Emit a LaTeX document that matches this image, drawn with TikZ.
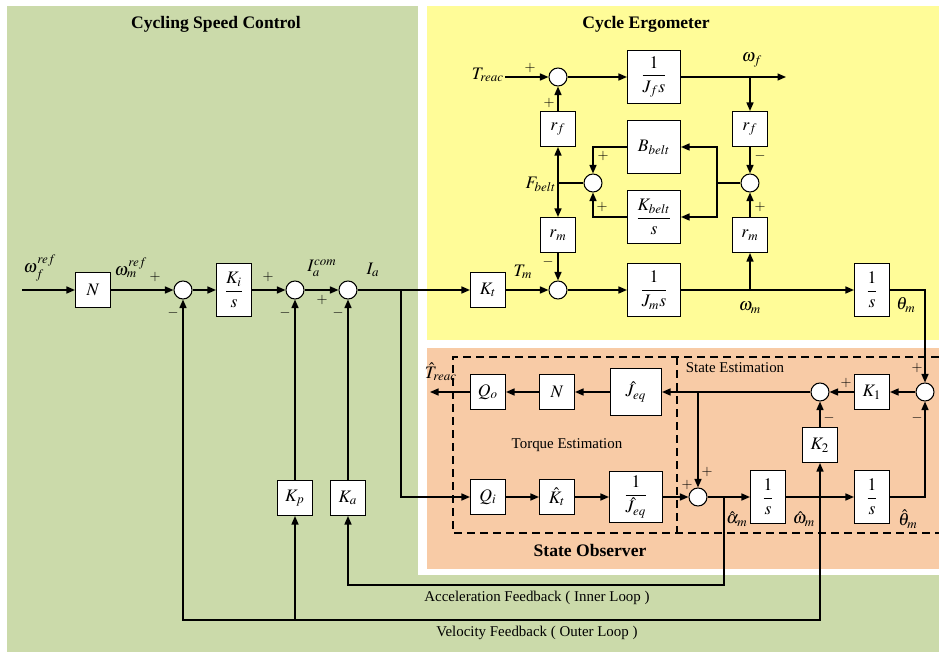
\documentclass[tikz,border=0pt]{standalone}
\usepackage{amsmath}
\usepackage{mathptmx}
\usepackage{fontspec}
\setmainfont{Liberation Serif}
\usetikzlibrary{arrows.meta}

\definecolor{ctrlgreen}{RGB}{203,218,170}
\definecolor{ergoyellow}{RGB}{255,252,152}
\definecolor{obsorange}{RGB}{248,203,166}

\begin{document}
\begin{tikzpicture}[x=0.2mm, y=-0.2mm, line width=0.8pt,
  blk/.style={draw, fill=white, line width=0.6pt, minimum width=7mm, minimum height=7mm, inner sep=1pt},
  bigblk/.style={blk, minimum width=10.6mm, minimum height=10.6mm},
  tallblk/.style={blk, minimum width=7mm, minimum height=10.6mm},
  sumnode/.style={draw, circle, fill=white, line width=0.6pt, minimum size=3.6mm, inner sep=0pt},
  sig/.style={inner sep=0pt, font=\footnotesize},
  lbl/.style={inner sep=0.5pt},
  arr/.style={-{Triangle[length=1.7mm,width=1.4mm]}},
  heading/.style={font=\bfseries},
  note/.style={font=\fontsize{8.5}{10}\selectfont, inner sep=1pt},
  dashbox/.style={dash pattern=on 1.6mm off 1mm}]
  \useasboundingbox (0,0) rectangle (939,652);
  % Panels
  \fill[ctrlgreen] (7,6) rectangle (939,652);
  \fill[white] (418,6) rectangle (939,575);
  \fill[ergoyellow] (427,6) rectangle (939,340);
  \fill[obsorange] (427,348) rectangle (939,569);
  \node[heading] (hctrl) at (216,24) {Cycling Speed Control};
  \node[heading] (hergo) at (646,24) {Cycle Ergometer};
  \node[heading] (hobs) at (590,550) {State Observer};

  % Speed loop (main row)
  \coordinate (wfin) at (22,290);
  \node[blk] (N1) at (93,290) {$N$};
  \node[sumnode] (sum1) at (183,290) {};
  \node[tallblk] (Ki) at (234,290) {$\dfrac{K_i}{s}$};
  \node[sumnode] (sum2) at (295,290) {};
  \node[sumnode] (sum3) at (348,290) {};
  \coordinate (ia) at (401,290);
  \node[blk] (Kt) at (488,290) {$K_t$};
  \node[sumnode] (sum4) at (558,290) {};
  \node[bigblk] (Jm) at (654,290) {$\dfrac{1}{J_m s}$};
  \coordinate (wm) at (750,290);
  \node[tallblk] (Int1) at (872,290) {$\dfrac{1}{s}$};

  \node[lbl] (lwfref) at (40,268) {$\omega_f^{ref}$};
  \node[lbl] (lwmref) at (131,268) {$\omega_m^{ref}$};
  \node[lbl] (licom) at (322,268) {$I_a^{com}$};
  \node[lbl] (lia) at (373,270) {$I_a$};
  \node[lbl] (ltm) at (523,272) {$T_m$};
  \node[lbl] (lwm) at (750,308) {$\omega_m$};
  \node[lbl] (lthm) at (906,305) {$\theta_m$};

  \node[sig] (p1) at (155,277) {$+$};
  \node[sig] (m1) at (173,313) {$-$};
  \node[sig] (p2) at (268,277) {$+$};
  \node[sig] (m2) at (285,313) {$-$};
  \node[sig] (p3) at (322,300) {$+$};
  \node[sig] (m3) at (338,313) {$-$};
  \node[sig] (m4) at (548,262) {$-$};

  \draw[arr] (wfin) -- (N1);
  \draw[arr] (N1) -- (sum1);
  \draw[arr] (sum1) -- (Ki);
  \draw[arr] (Ki) -- (sum2);
  \draw[arr] (sum2) -- (sum3);
  \draw[arr] (sum3) -- (Kt);
  \draw[arr] (Kt) -- (sum4);
  \draw[arr] (sum4) -- (Jm);
  \draw[arr] (Jm) -- (Int1);

  % Ergometer dynamics
  \coordinate (treacin) at (505,77);
  \node[sumnode] (sum5) at (558,77) {};
  \node[bigblk] (Jf) at (654,77) {$\dfrac{1}{J_f s}$};
  \coordinate (wf) at (750,77);
  \coordinate (wfout) at (786,77);
  \node[blk] (rf1) at (558,129) {$r_f$};
  \node[blk] (rf2) at (750,129) {$r_f$};
  \node[bigblk] (Bb) at (654,147) {$B_{belt}$};
  \node[sumnode] (sum7) at (593,183) {};
  \coordinate (fbelt) at (558,183);
  \node[sumnode] (sum6) at (750,183) {};
  \coordinate (bsplit) at (717,183);
  \node[bigblk] (Kb) at (654,217) {$\dfrac{K_{belt}}{s}$};
  \node[blk] (rm1) at (558,235) {$r_m$};
  \node[blk] (rm2) at (750,235) {$r_m$};

  \node[lbl] (ltreac) at (488,75) {$T_{reac}$};
  \node[lbl] (lwf) at (752,60) {$\omega_f$};
  \node[lbl] (lfbelt) at (541,184) {$F_{belt}$};

  \node[sig] (p5a) at (530,68) {$+$};
  \node[sig] (p5b) at (549,103) {$+$};
  \node[sig] (m6) at (760,156) {$-$};
  \node[sig] (p6) at (760,207) {$+$};
  \node[sig] (p7a) at (603,156) {$+$};
  \node[sig] (p7b) at (602,207) {$+$};

  \draw[arr] (treacin) -- (sum5);
  \draw[arr] (sum5) -- (Jf);
  \draw[arr] (Jf) -- (wfout);
  \draw[arr] (wf) -- (rf2);
  \draw[arr] (rf2) -- (sum6);
  \draw[arr] (wm) -- (rm2);
  \draw[arr] (rm2) -- (sum6);
  \draw (sum6) -- (bsplit);
  \draw[arr] (bsplit) |- (Bb);
  \draw[arr] (bsplit) |- (Kb);
  \draw[arr] (Bb) -| (sum7);
  \draw[arr] (Kb) -| (sum7);
  \draw (sum7) -- (fbelt);
  \draw[arr] (fbelt) -- (rf1);
  \draw[arr] (fbelt) -- (rm1);
  \draw[arr] (rf1) -- (sum5);
  \draw[arr] (rm1) -- (sum4);

  % Observer
  \draw[dashbox] (939,357) -- (453,357) -- (453,533) -- (939,533);
  \draw[dashbox] (677,357) -- (677,533);
  \node[note] (ltorque) at (567,445) {Torque Estimation};
  \node[note] (lstate) at (735,368) {State Estimation};

  \coordinate (treacout) at (430,392);
  \node[blk] (Qo) at (488,392) {$Q_o$};
  \node[blk] (N2) at (557,392) {$N$};
  \node[blk, minimum width=10.2mm, minimum height=9.4mm] (Jeq) at (636,392) {$\hat{J}_{eq}$};
  \coordinate (br) at (698,392);
  \node[sumnode] (sum8) at (820,392) {};
  \node[blk] (K1) at (872,392) {$K_1$};
  \node[sumnode] (sum9) at (925,392) {};
  \node[blk] (K2) at (820,445) {$K_2$};

  \node[blk] (Qi) at (488,497) {$Q_i$};
  \node[blk] (Kth) at (557,497) {$\hat{K}_t$};
  \node[blk, minimum width=10.6mm, minimum height=10.2mm] (iJeq) at (636,497) {$\dfrac{1}{\hat{J}_{eq}}$};
  \node[sumnode] (sum10) at (698,497) {};
  \coordinate (ah) at (724,497);
  \node[tallblk] (Int2) at (768,497) {$\dfrac{1}{s}$};
  \coordinate (oh) at (820,497);
  \node[tallblk] (Int3) at (872,497) {$\dfrac{1}{s}$};

  \node[lbl] (lthat) at (441,372) {$\hat{T}_{reac}$};
  \node[lbl] (lahat) at (737,519) {$\hat{\alpha}_m$};
  \node[lbl] (lwhat) at (804,519) {$\hat{\omega}_m$};
  \node[lbl] (lthhat) at (908,519) {$\hat{\theta}_m$};

  \node[sig] (p8) at (846,383) {$+$};
  \node[sig] (m8) at (829,418) {$-$};
  \node[sig] (p9) at (917,368) {$+$};
  \node[sig] (m9) at (917,418) {$-$};
  \node[sig] (p10a) at (707,472) {$+$};
  \node[sig] (p10b) at (687,485) {$+$};

  \draw[arr] (Int1) -| (sum9);
  \draw[arr] (Int3) -| (sum9);
  \draw[arr] (sum9) -- (K1);
  \draw[arr] (K1) -- (sum8);
  \draw[arr] (sum8) -- (Jeq);
  \draw[arr] (Jeq) -- (N2);
  \draw[arr] (N2) -- (Qo);
  \draw[arr] (Qo) -- (treacout);
  \draw[arr] (br) -- (sum10);
  \draw[arr] (ia) |- (Qi);
  \draw[arr] (Qi) -- (Kth);
  \draw[arr] (Kth) -- (iJeq);
  \draw[arr] (iJeq) -- (sum10);
  \draw[arr] (sum10) -- (Int2);
  \draw[arr] (Int2) -- (Int3);
  \draw[arr] (oh) -- (K2);
  \draw[arr] (K2) -- (sum8);

  % Feedback paths
  \coordinate (afb) at (724,585);
  \coordinate (vfb) at (820,620);
  \coordinate (kpj) at (295,620);
  \node[blk] (Kp) at (295,498) {$K_p$};
  \node[blk] (Ka) at (348,498) {$K_a$};
  \draw[arr] (ah) -- (afb) -| (Ka);
  \draw[arr] (oh) -- (vfb) -| (sum1);
  \draw[arr] (kpj) -- (Kp);
  \draw[arr] (Kp) -- (sum2);
  \draw[arr] (Ka) -- (sum3);
  \node[note] (lacc) at (537,598) {Acceleration Feedback ( Inner Loop )};
  \node[note] (lvel) at (537,633) {Velocity Feedback ( Outer Loop )};
\end{tikzpicture}
\end{document}
